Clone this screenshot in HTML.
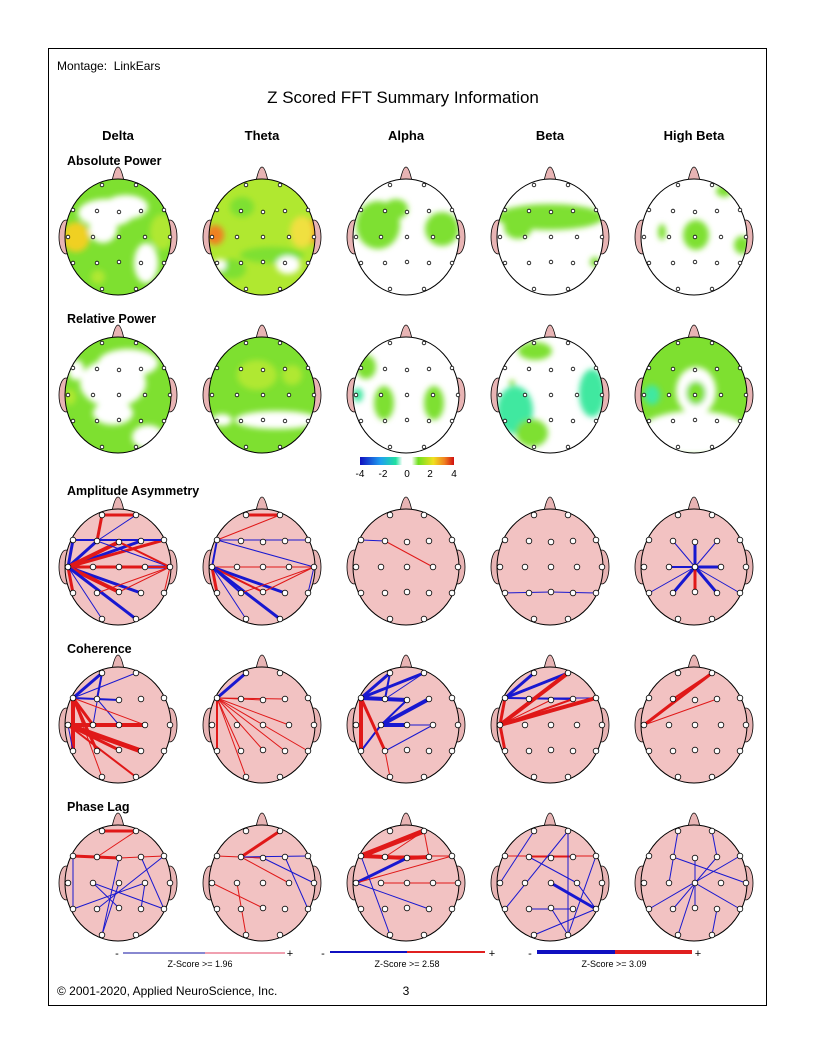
<!DOCTYPE html>
<html><head><meta charset="utf-8"><style>
body{margin:0;background:#fff;}
svg{display:block;font-family:"Liberation Sans",Arial,sans-serif;}
</style></head><body>
<svg id="s" width="816" height="1056" viewBox="0 0 816 1056" xmlns="http://www.w3.org/2000/svg">
<defs>
<filter id="bl" x="-30%" y="-30%" width="160%" height="160%"><feGaussianBlur stdDeviation="3"/></filter>
<linearGradient id="cb" x1="0" x2="1">
<stop offset="0" stop-color="#1010c0"/><stop offset="0.22" stop-color="#20a0f0"/><stop offset="0.38" stop-color="#20e0a0"/><stop offset="0.45" stop-color="#fff"/><stop offset="0.55" stop-color="#fff"/><stop offset="0.62" stop-color="#70e020"/><stop offset="0.78" stop-color="#f0e020"/><stop offset="0.9" stop-color="#f08020"/><stop offset="1" stop-color="#d01010"/></linearGradient>
</defs>
<rect x="48.5" y="48.5" width="718" height="957" fill="none" stroke="#000" stroke-width="1"/>
<text x="57" y="70" font-size="12">Montage:&#160; LinkEars</text>
<text x="403" y="103" font-size="17" text-anchor="middle">Z Scored FFT Summary Information</text>
<g font-size="13" font-weight="bold" text-anchor="middle">
<text x="118" y="140">Delta</text><text x="262" y="140">Theta</text><text x="406" y="140">Alpha</text><text x="550" y="140">Beta</text><text x="694" y="140">High Beta</text></g>
<g font-size="12.5" font-weight="bold">
<text x="67" y="165">Absolute Power</text><text x="67" y="323">Relative Power</text><text x="67" y="495">Amplitude Asymmetry</text><text x="67" y="653">Coherence</text><text x="67" y="811">Phase Lag</text></g>
<rect x="360" y="457" width="94" height="8" fill="url(#cb)"/>
<g font-size="10" text-anchor="middle"><text x="360" y="477">-4</text><text x="383" y="477">-2</text><text x="407" y="477">0</text><text x="430" y="477">2</text><text x="454" y="477">4</text></g>
<g id="heads"></g>
<g font-size="9" text-anchor="middle">
<text x="117" y="957" font-size="11">-</text><line x1="123" y1="953" x2="205" y2="953" stroke="#1010a0" stroke-width="1"/><line x1="205" y1="953" x2="285" y2="953" stroke="#e04060" stroke-width="1"/><text x="290" y="957" font-size="11">+</text>
<text x="200" y="967">Z-Score &gt;= 1.96</text>
<text x="323" y="957" font-size="11">-</text><line x1="330" y1="952" x2="407" y2="952" stroke="#1010c0" stroke-width="2"/><line x1="407" y1="952" x2="485" y2="952" stroke="#e02020" stroke-width="2"/><text x="492" y="957" font-size="11">+</text>
<text x="407" y="967">Z-Score &gt;= 2.58</text>
<text x="530" y="957" font-size="11">-</text><line x1="537" y1="952" x2="615" y2="952" stroke="#1010c0" stroke-width="4"/><line x1="615" y1="952" x2="692" y2="952" stroke="#e02020" stroke-width="4"/><text x="698" y="957" font-size="11">+</text>
<text x="614" y="967">Z-Score &gt;= 3.09</text></g>
<text x="57" y="995" font-size="12">© 2001-2020, Applied NeuroScience, Inc.</text>
<text x="406" y="995" font-size="12" text-anchor="middle">3</text>
</svg>
<script>
var E={Fp1:[-16,-52],Fp2:[18,-52],F7:[-45,-27],F3:[-21,-26],Fz:[1,-25],F4:[23,-26],F8:[46,-27],T3:[-50,0],C3:[-25,0],Cz:[1,0],C4:[27,0],T4:[52,0],T5:[-45,26],P3:[-21,26],Pz:[1,25],P4:[23,26],T6:[46,26],O1:[-16,52],O2:[18,52]};
var NS="http://www.w3.org/2000/svg",G=document.getElementById("heads"),cid=0;
function el(t,a,p){var e=document.createElementNS(NS,t);for(var k in a)e.setAttribute(k,a[k]);(p||G).appendChild(e);return e;}
var xs=[118,262,406,550,694],ys=[237,395,567,725,883];
var GR="#7ee030",YG="#b0e830",WH="#fff",CY="#40e8a0";
var maps=[
[[GR,[[WH,-12,-24,28,14],[WH,-15,-8,14,14],[WH,8,-30,22,12],[WH,28,26,12,20],[YG,44,-5,12,18],["#f07020",-47,2,9,11],["#f0d020",-42,0,14,15],[YG,-20,40,7,7]]],
 [YG,[[GR,-20,-30,12,10],[GR,10,18,32,8],[GR,-30,32,14,10],["#f08020",-47,-2,9,10],["#f08020",50,-5,8,12],["#f0e040",40,-5,12,16],[WH,26,28,12,9],[WH,-42,28,6,6]]],
 [WH,[[GR,-28,-12,22,24],[GR,36,-8,17,17],[GR,-10,-28,12,10]]],
 [WH,[[GR,0,-20,54,13],[GR,-32,-10,14,12],[GR,45,25,5,5]]],
 [WH,[[GR,2,-2,13,15],[GR,-32,-5,4,8],[GR,48,8,8,9],[GR,30,-46,8,6]]]],
[[GR,[[WH,-5,-12,33,24],[WH,10,-32,30,14],[WH,-42,-25,8,10],[WH,-5,18,20,12],[WH,30,42,16,12],[YG,-48,2,6,8]]],
 [GR,[[YG,-5,-20,20,15],[WH,15,25,42,9],[WH,-40,25,10,6],[YG,30,-20,10,10]]],
 [WH,[[GR,-40,-28,10,12],[CY,-48,0,5,7],[GR,-22,8,10,17],[GR,28,8,10,17]]],
 [WH,[[CY,-35,15,18,24],[GR,-18,38,16,14],[GR,-15,-44,17,9],[CY,42,-2,13,24],[GR,-38,-12,3,3]]],
 [GR,[[WH,2,-4,20,24],[WH,0,38,55,22],[GR,2,-2,10,12],[CY,-42,0,8,10]]]]];
var lines=[
[[["F3","Fp1","Fp2","r",3],["T3","F4","b",3],["T3","F3","b",3],["T3","Fz","r",4],["T3","F8","r",3],["T3","T4","b",3],["T3","C4","r",3],["T3","P4","b",3],["T3","Pz","r",4],["T3","O2","b",3],["T3","F7","b",3],["T3","T5","r",3],["T3","O1","b",1],["T4","F3","b",1],["T4","Fz","r",2],["T4","C3","r",2],["T4","P3","r",1],["T4","Pz","r",1],["T4","T6","r",1],["F7","F8","b",2],["Fp2","F3","b",1]],
 [["Fp1","Fp2","r",3],["F7","F8","b",1],["F7","T3","b",2],["Fp2","F7","r",1],["T3","T4","r",1],["T3","P4","b",3],["T3","Pz","r",2],["T3","O2","b",3],["T3","T5","r",3],["T3","P3","b",2],["T3","O1","b",1],["T4","C3","r",1],["T4","P3","r",1],["T4","T6","b",1],["T4","Pz","r",1],["T4","F7","b",1]],
 [["F3","C4","r",1],["F7","F3","b",1]],
 [["T5","Pz","b",1],["Pz","T6","b",1]],
 [["Cz","Fz","b",3],["Cz","C3","b",2],["Cz","C4","b",3],["Cz","P3","b",3],["Cz","P4","b",3],["Cz","Pz","r",3],["Cz","F3","b",1],["Cz","F4","b",1],["Cz","T5","b",1],["Cz","T6","b",1]]],
[[["F7","Fp1","b",3],["F7","Fz","b",2],["Fp1","F3","b",2],["F7","Fp2","b",1],["F7","T5","r",4],["F7","P3","r",3],["F7","C3","r",3],["F7","O1","r",1],["T3","C4","r",4],["T3","Pz","r",3],["T3","P4","r",5],["T3","O2","r",2],["T3","T5","b",1],["Fp1","C3","b",1],["F3","Cz","b",1],["F7","C4","r",1]],
 [["F7","Fp1","b",3],["F7","Fz","r",1],["F7","F4","r",1],["F7","C4","r",1],["F7","P3","r",1],["F7","T6","r",1],["F7","P4","r",1],["F7","O1","r",1],["F7","T5","r",2],["F7","Pz","r",1]],
 [["F7","Fp1","b",3],["Fp1","F3","b",2],["F7","Fp2","b",3],["F7","Fz","b",4],["Fz","C3","b",2],["C3","F4","b",4],["C3","Cz","b",4],["C3","C4","b",1],["C3","T5","b",2],["F7","T5","r",4],["F7","P3","r",3],["P3","C4","b",1],["Fp2","F3","b",1],["P3","O1","r",1]],
 [["F7","Fp1","b",3],["F7","Fp2","b",3],["F7","F4","b",2],["F7","F8","b",1],["T3","F7","r",3],["T3","Fp2","r",4],["T3","F4","r",2],["T3","F8","r",4],["T3","Fz","r",1],["T3","T5","r",3]],
 [["T3","Fp2","r",3],["T3","F4","r",1],["F3","Fp2","r",2]]],
[[["Fp1","Fp2","r",3],["F7","Fz","r",3],["Fz","F8","r",1],["Fp2","F3","r",1],["F7","T5","b",1],["T5","C4","b",1],["C4","P4","b",1],["F8","P3","b",1],["Cz","O1","b",1],["Fz","O1","b",1],["C3","Pz","b",1],["F4","T6","b",1],["C3","T6","b",1]],
 [["F3","Fp2","r",3],["F3","Fz","r",1],["F3","C4","r",1],["F7","Fz","r",1],["C3","O1","r",1],["F3","F8","b",1],["Fz","T4","b",1],["F4","T6","b",1],["T3","Pz","r",1]],
 [["F7","Fp2","r",5],["F7","F8","r",1],["F7","Fz","r",4],["Fz","F4","r",4],["F3","Fp2","r",1],["T3","Fz","b",3],["T3","F8","r",1],["C3","T4","r",1],["T3","P4","b",1],["F7","O1","b",1],["Fp2","F4","r",1]],
 [["F7","F8","r",1],["F3","F4","r",1],["Fp1","T3","b",1],["T5","Fp2","b",1],["Fp2","O2","b",1],["F3","C4","b",1],["C4","T6","b",1],["Cz","T6","b",3],["T6","O1","b",1],["F8","O2","b",1],["Pz","O2","b",1],["P3","P4","b",1]],
 [["Fp1","C3","b",1],["F3","T4","b",1],["T5","F8","b",1],["F4","P3","b",1],["Cz","O1","b",1],["Fz","Pz","b",1],["P4","O2","b",1],["Cz","T6","b",1],["Fp2","F4","b",1]]]];
function head(cx,cy,bg,blobs,ln){
 var id="c"+(cid++);
 el("path",{d:"M"+(cx-6)+" "+(cy-56)+" Q"+(cx-3)+" "+(cy-70)+" "+cx+" "+(cy-70)+" Q"+(cx+3)+" "+(cy-70)+" "+(cx+6)+" "+(cy-56)+"Z",fill:"#e8b4b4",stroke:"#000","stroke-width":0.8});
 el("ellipse",{cx:cx-52,cy:cy,rx:7,ry:17,fill:"#e8b4b4",stroke:"#000","stroke-width":0.8});
 el("ellipse",{cx:cx+52,cy:cy,rx:7,ry:17,fill:"#e8b4b4",stroke:"#000","stroke-width":0.8});
 var cp=el("clipPath",{id:id});el("ellipse",{cx:cx,cy:cy,rx:53,ry:58},cp);
 el("ellipse",{cx:cx,cy:cy,rx:53,ry:58,fill:bg});
 if(blobs){var g=el("g",{"clip-path":"url(#"+id+")"});var g2=el("g",{filter:"url(#bl)"},g);
  blobs.forEach(function(b){el("ellipse",{cx:cx+b[1],cy:cy+b[2],rx:b[3],ry:b[4],fill:b[0]},g2);});}
 el("ellipse",{cx:cx,cy:cy,rx:53,ry:58,fill:"none",stroke:"#000","stroke-width":1});
 if(ln){ln.forEach(function(l){var n=l.length,w=l[n-1],c=l[n-2]=="r"?"#e01818":"#1818d0";
  for(var i=0;i<n-3;i++){var a=E[l[i]],b=E[l[i+1]];el("line",{x1:cx+a[0],y1:cy+a[1],x2:cx+b[0],y2:cy+b[1],stroke:c,"stroke-width":w});}});}
 for(var k in E){var p=E[k];el("circle",{cx:cx+p[0],cy:cy+p[1],r:blobs?1.8:2.8,fill:"#fff",stroke:"#000","stroke-width":0.8});}
}
for(var r=0;r<5;r++)for(var c=0;c<5;c++){
 if(r<2)head(xs[c],ys[r],maps[r][c][0],maps[r][c][1],null);
 else head(xs[c],ys[r],"#f2c2c2",null,lines[r-2][c]);
}
</script>
</body></html>
